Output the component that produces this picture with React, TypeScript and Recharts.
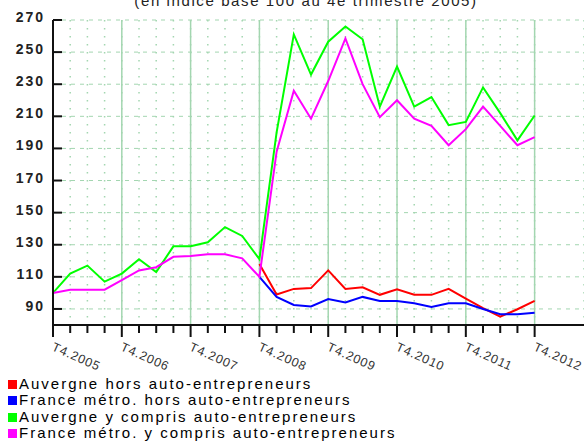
import { LineChart, Line, XAxis, YAxis, CartesianGrid, ReferenceLine } from 'recharts';

// trimestres, de T4 2005 à T4 2012
const quarters = [
    'T4.2005', 'T1.2006', 'T2.2006', 'T3.2006', 'T4.2006', 'T1.2007', 'T2.2007', 'T3.2007',
    'T4.2007', 'T1.2008', 'T2.2008', 'T3.2008', 'T4.2008', 'T1.2009', 'T2.2009', 'T3.2009',
    'T4.2009', 'T1.2010', 'T2.2010', 'T3.2010', 'T4.2010', 'T1.2011', 'T2.2011', 'T3.2011',
    'T4.2011', 'T1.2012', 'T2.2012', 'T3.2012', 'T4.2012',
];
const yearTicks = [0, 4, 8, 12, 16, 20, 24, 28];
const yTicks = [90, 110, 130, 150, 170, 190, 210, 230, 250, 270];

const auvergneHors = [
    null, null, null, null, null, null, null, null, null, null, null, null,
    118, 99, 102.5, 103, 114, 102.5, 103.5, 98.8, 102.3, 98.8, 98.8, 102.5, 96.5, 90.5, 85.2, 89.8, 95,
];
const franceHors = [
    null, null, null, null, null, null, null, null, null, null, null, null,
    110, 97.5, 92.5, 91.5, 96.2, 94, 97.5, 95, 95, 93.5, 91.3, 93.5, 93.5, 90, 86.7, 86.7, 87.7,
];
const auvergneAvec = [
    100, 112, 117, 107, 112, 121, 113, 129, 129, 131.5, 141, 135.5, 121, 200, 261, 236,
    256.5, 266, 258, 216, 241, 216, 222, 204.5, 206.5, 228, 212, 195, 210.5,
];
const franceAvec = [
    100, 102, 102, 102, 108, 114, 116, 122.5, 123, 124, 124, 121.5, 110, 188, 226, 208.5,
    232, 258.5, 230, 209.5, 220, 208.5, 204, 192, 202, 216, 204, 192, 197,
];

const series = [
    { key: 'ah', name: 'Auvergne hors auto-entrepreneurs', color: '#ff0000', values: auvergneHors },
    { key: 'fh', name: 'France métro. hors auto-entrepreneurs', color: '#0000ff', values: franceHors },
    { key: 'aa', name: 'Auvergne y compris auto-entrepreneurs', color: '#00ff00', values: auvergneAvec },
    { key: 'fa', name: 'France métro. y compris auto-entrepreneurs', color: '#ff00ff', values: franceAvec },
];

const data = quarters.map((q, i) => {
    const row: any = { i, q };
    series.forEach(s => { row[s.key] = s.values[i]; });
    return row;
});

const GRID = '#a3d6b0';
const FONT = '"Liberation Sans", Arial, sans-serif';

const XTick = (props: any) => {
    const { x, y, payload } = props;
    const major = payload.value % 4 === 0;
    return (
        <g>
            <line x1={x} y1={y} x2={x} y2={y + (major ? 12 : 8)} stroke="#111" strokeWidth={2} />
            {major && (
                <text transform={`translate(${x - 2},${y + 25}) rotate(24)`} fontSize={12.5}
                    fontFamily={FONT} letterSpacing={0.8} fill="#333">
                    {quarters[payload.value]}
                </text>
            )}
        </g>
    );
};

const YTick = (props: any) => {
    const { x, y, payload } = props;
    return (
        <g>
            <line x1={x} y1={y} x2={x + 9} y2={y} stroke="#111" strokeWidth={2} />
            <text x={x - 8} y={y + 2} textAnchor="end" fontSize={14} fontWeight="bold"
                fontFamily={FONT} letterSpacing={2} fill="#222">
                {payload.value}
            </text>
        </g>
    );
};

export default function App() {
    return (
        <div style={{ position: 'absolute', left: 0, top: 0, width: 584, height: 441, overflow: 'hidden', background: '#fff' }}>
            <svg width={584} height={20} style={{ position: 'absolute', left: 0, top: 0 }}>
                <text x={306} y={6} textAnchor="middle" fontSize={15} fontFamily={FONT} letterSpacing={1.6} fill="#222">
                    (en indice base 100 au 4e trimestre 2005)
                </text>
            </svg>
            <LineChart width={584} height={380} data={data} margin={{ top: 20, right: 0, bottom: 0, left: 0 }}>
                <CartesianGrid vertical={false} stroke={GRID} strokeDasharray="4 5" />
                <CartesianGrid horizontal={false} stroke={GRID} strokeWidth={1.5} strokeDasharray="1.5 6.5" />
                {yearTicks.slice(1).map(t => (
                    <ReferenceLine key={t} x={t} stroke={GRID} strokeWidth={1.5} />
                ))}
                <XAxis dataKey="i" type="number" domain={[0, 30.87]} allowDataOverflow
                    ticks={quarters.map((_, i) => i)} interval={0} height={55}
                    tickSize={0} tickMargin={0} tickLine={false} tick={<XTick />}
                    axisLine={{ stroke: '#111', strokeWidth: 2 }} />
                <YAxis type="number" domain={[80, 270]} allowDataOverflow ticks={yTicks} interval={0}
                    width={53} tickSize={0} tickMargin={0} tickLine={false} tick={<YTick />}
                    axisLine={{ stroke: '#111', strokeWidth: 2 }} />
                {series.map(s => (
                    <Line key={s.key} dataKey={s.key} name={s.name} stroke={s.color} strokeWidth={2}
                        dot={false} type="linear" isAnimationActive={false} connectNulls={false} />
                ))}
            </LineChart>
            <div style={{ position: 'absolute', left: 8, top: 376, fontFamily: FONT, fontSize: 15, lineHeight: '16.3px', letterSpacing: 2, color: '#000' }}>
                {series.map(s => (
                    <div key={s.key} style={{ whiteSpace: 'nowrap' }}>
                        <span style={{ display: 'inline-block', width: 9, height: 9, background: s.color, marginRight: 2, verticalAlign: 'baseline' }} />
                        {s.name}
                    </div>
                ))}
            </div>
        </div>
    );
}
